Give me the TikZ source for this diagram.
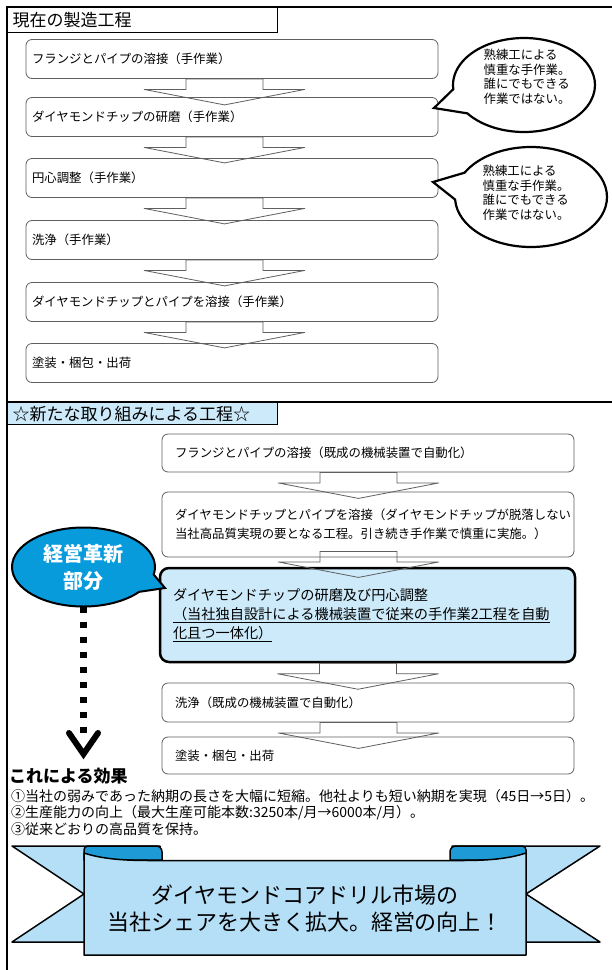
\documentclass[tikz,border=0pt]{standalone}
\usepackage{fontspec}
\setmainfont{Noto Sans CJK JP}
\usetikzlibrary{shapes.callouts,calc}
\definecolor{lblue}{RGB}{205,234,250}
\definecolor{rblue}{RGB}{181,223,246}
\definecolor{curlblue}{RGB}{30,155,215}
\definecolor{kblue}{RGB}{8,155,220}
\definecolor{bgray}{RGB}{95,95,95}
\newcommand{\boxfont}{\fontsize{12.4pt}{19pt}\selectfont}
\newcommand{\talkfont}{\fontsize{12.4pt}{14.5pt}\selectfont}
\newcommand{\cfont}{\fontsize{14.2pt}{19pt}\selectfont}
\newcommand{\ttlfont}{\fontsize{17pt}{20pt}\selectfont}
\newcommand{\bluefont}{\fontsize{20pt}{27pt}\selectfont}
\newcommand{\listfont}{\fontsize{14pt}{16.5pt}\selectfont}
\newcommand{\banfont}{\fontsize{22pt}{27pt}\selectfont}
\newcommand{\flowarrow}[3]{%
  \draw[barr] ($(#1.south)+(#2-38.5,#3)$) -- ++(0,10.5) -- ++(-42,0) -- ++(80.5,15.5) -- ++(80.5,-15.5) -- ++(-42,0) -- ++(0,-10.5) -- cycle;}
\begin{document}
\begin{tikzpicture}[x=1pt,y=-1pt,
  pbox/.style={draw=bgray, line width=0.8pt, rounded corners=6pt, fill=white, inner xsep=6pt, inner ysep=0pt, text width=400pt, align=left, font=\boxfont},
  sbox/.style={draw=bgray, line width=0.8pt, rounded corners=6pt, fill=white, inner xsep=13pt, inner ysep=0pt, text width=386pt, align=left, font=\boxfont},
  barr/.style={draw=bgray, line width=0.8pt, line join=miter},
  talk/.style={ellipse callout, draw=black, line width=2.2pt, fill=white, inner sep=0pt, callout pointer arc=32},
  talktext/.style={font=\talkfont, align=left, inner sep=0pt},
  ttl/.style={draw=black, line width=1.2pt, anchor=north west, minimum width=270pt, inner xsep=5pt, inner ysep=0pt, text width=260pt, align=left, font=\ttlfont},
  bline/.style={draw=black, line width=1.5pt, line join=round}
]
\useasboundingbox (0,0) rectangle (612,970);
\fill[white] (0,0) rectangle (612,970);
% frame
\draw[line width=1.2pt] (7,970) -- (7,7) -- (612,7);
\draw[line width=1.2pt] (7,402) -- (612,402);
\node[ttl, fill=white, minimum height=25pt] (t1) at (7,7) {現在の製造工程};
\node[ttl, fill=lblue, minimum height=22pt] (t2) at (7,402) {☆新たな取り組みによる工程☆};

% current process
\node[pbox, minimum height=39pt] (b1) at (232,59) {フランジとパイプの溶接（手作業）};
\node[pbox, minimum height=39pt] (b2) at (232,117) {ダイヤモンドチップの研磨（手作業）};
\node[pbox, minimum height=39pt] (b3) at (232,178) {円心調整（手作業）};
\node[pbox, minimum height=39pt] (b4) at (232,240) {洗浄（手作業）};
\node[pbox, minimum height=39pt] (b5) at (232,302) {ダイヤモンドチップとパイプを溶接（手作業）};
\node[pbox, minimum height=39pt] (b6) at (232,363) {塗装・梱包・出荷};
\flowarrow{b1}{-7.5}{0}
\flowarrow{b2}{-7.5}{0}
\flowarrow{b3}{-7.5}{0}
\flowarrow{b4}{-7.5}{0}
\flowarrow{b5}{-7.5}{0}

\node[talk, minimum width=142pt, minimum height=94pt, callout absolute pointer={(434,108)}] (c1) at (524,85) {};
\node[talktext] (c1t) at (527,77) {熟練工による\\慎重な手作業。\\誰にでもできる\\作業ではない。};
\node[talk, minimum width=152pt, minimum height=100pt, callout absolute pointer={(433,182)}] (c2) at (531,197) {};
\node[talktext] (c2t) at (526,193) {熟練工による\\慎重な手作業。\\誰にでもできる\\作業ではない。};

% new process
\node[sbox, minimum height=38pt] (s1) at (368,453) {フランジとパイプの溶接（既成の機械装置で自動化）};
\node[sbox, minimum height=65pt] (s2) at (368,524.5) {ダイヤモンドチップとパイプを溶接（ダイヤモンドチップが脱落しない\\当社高品質実現の要となる工程。引き続き手作業で慎重に実施。）};
\node[draw=black, line width=2.5pt, rounded corners=9pt, fill=lblue, inner xsep=13pt, inner ysep=0pt, text width=389pt, align=left, minimum height=94pt, font=\cfont] (s3) at (367.5,615) {ダイヤモンドチップの研磨及び円心調整\\\underline{（当社独自設計による機械装置で従来の手作業2工程を自動}\\\underline{化且つ一体化）}};
\node[sbox, minimum height=39pt] (s4) at (368,702.5) {洗浄（既成の機械装置で自動化）};
\node[sbox, minimum height=37pt] (s5) at (368,755.5) {塗装・梱包・出荷};
\flowarrow{s1}{-9.5}{0}
\flowarrow{s2}{-9.5}{-6}
\flowarrow{s3}{-9.5}{0}
\flowarrow{s4}{-9.5}{0}

\node[ellipse callout, draw=black, line width=2pt, fill=kblue, minimum width=143pt, minimum height=79pt, inner sep=0pt, callout absolute pointer={(165,588)}, callout pointer arc=28, text=white, font=\bluefont\bfseries, align=center] (inno) at (83.5,567) {経営革新\\部分};
\coordinate (dEnd) at (83.5,735);
\draw[line width=7pt, dash pattern=on 6pt off 9pt] ([yshift=1pt]inno.south) -- (dEnd);
\coordinate (vTip) at (83.5,754);
\draw[line width=6pt, line cap=round, line join=miter] (69,733) -- (vTip) -- (98,733);

% effects
\node[anchor=west, inner sep=0pt, font=\ttlfont\bfseries] (eh) at (9,776) {これによる効果};
\node[anchor=west, inner sep=0pt, align=left, font=\listfont] (el) at (11,812.5) {①当社の弱みであった納期の長さを大幅に短縮。他社よりも短い納期を実現（45日→5日）。\\②生産能力の向上（最大生産可能本数:3250本/月→6000本/月）。\\③従来どおりの高品質を保持。};

% banner
\draw[bline, fill=rblue] (12,846) -- (160,846) -- (160,942) -- (12,942) -- (84,894) -- cycle;
\draw[bline, fill=rblue] (600,846) -- (452,846) -- (452,942) -- (600,942) -- (526,894) -- cycle;
\draw[bline, fill=curlblue] (84,860) -- (84,850) .. controls (84,847.5) and (85.5,846) .. (88,846) -- (156,846) .. controls (159.5,846) and (162,848.5) .. (162,852) -- (162,860) -- cycle;
\draw[bline, fill=curlblue] (526,860) -- (526,850) .. controls (526,847.5) and (524.5,846) .. (522,846) -- (456,846) .. controls (452.5,846) and (450,848.5) .. (450,852) -- (450,860) -- cycle;
\draw[bline, fill=rblue] (84,853) .. controls (108,861) and (138,860.5) .. (162,860.5) -- (450,860.5) .. controls (474,860.5) and (502,861) .. (526,853) -- (526,955) -- (84,955) -- cycle;
\node[font=\banfont, align=center, inner sep=0pt] (bt) at (305,908.5) {ダイヤモンドコアドリル市場の\\当社シェアを大きく拡大。経営の向上！};
\end{tikzpicture}
\end{document}
